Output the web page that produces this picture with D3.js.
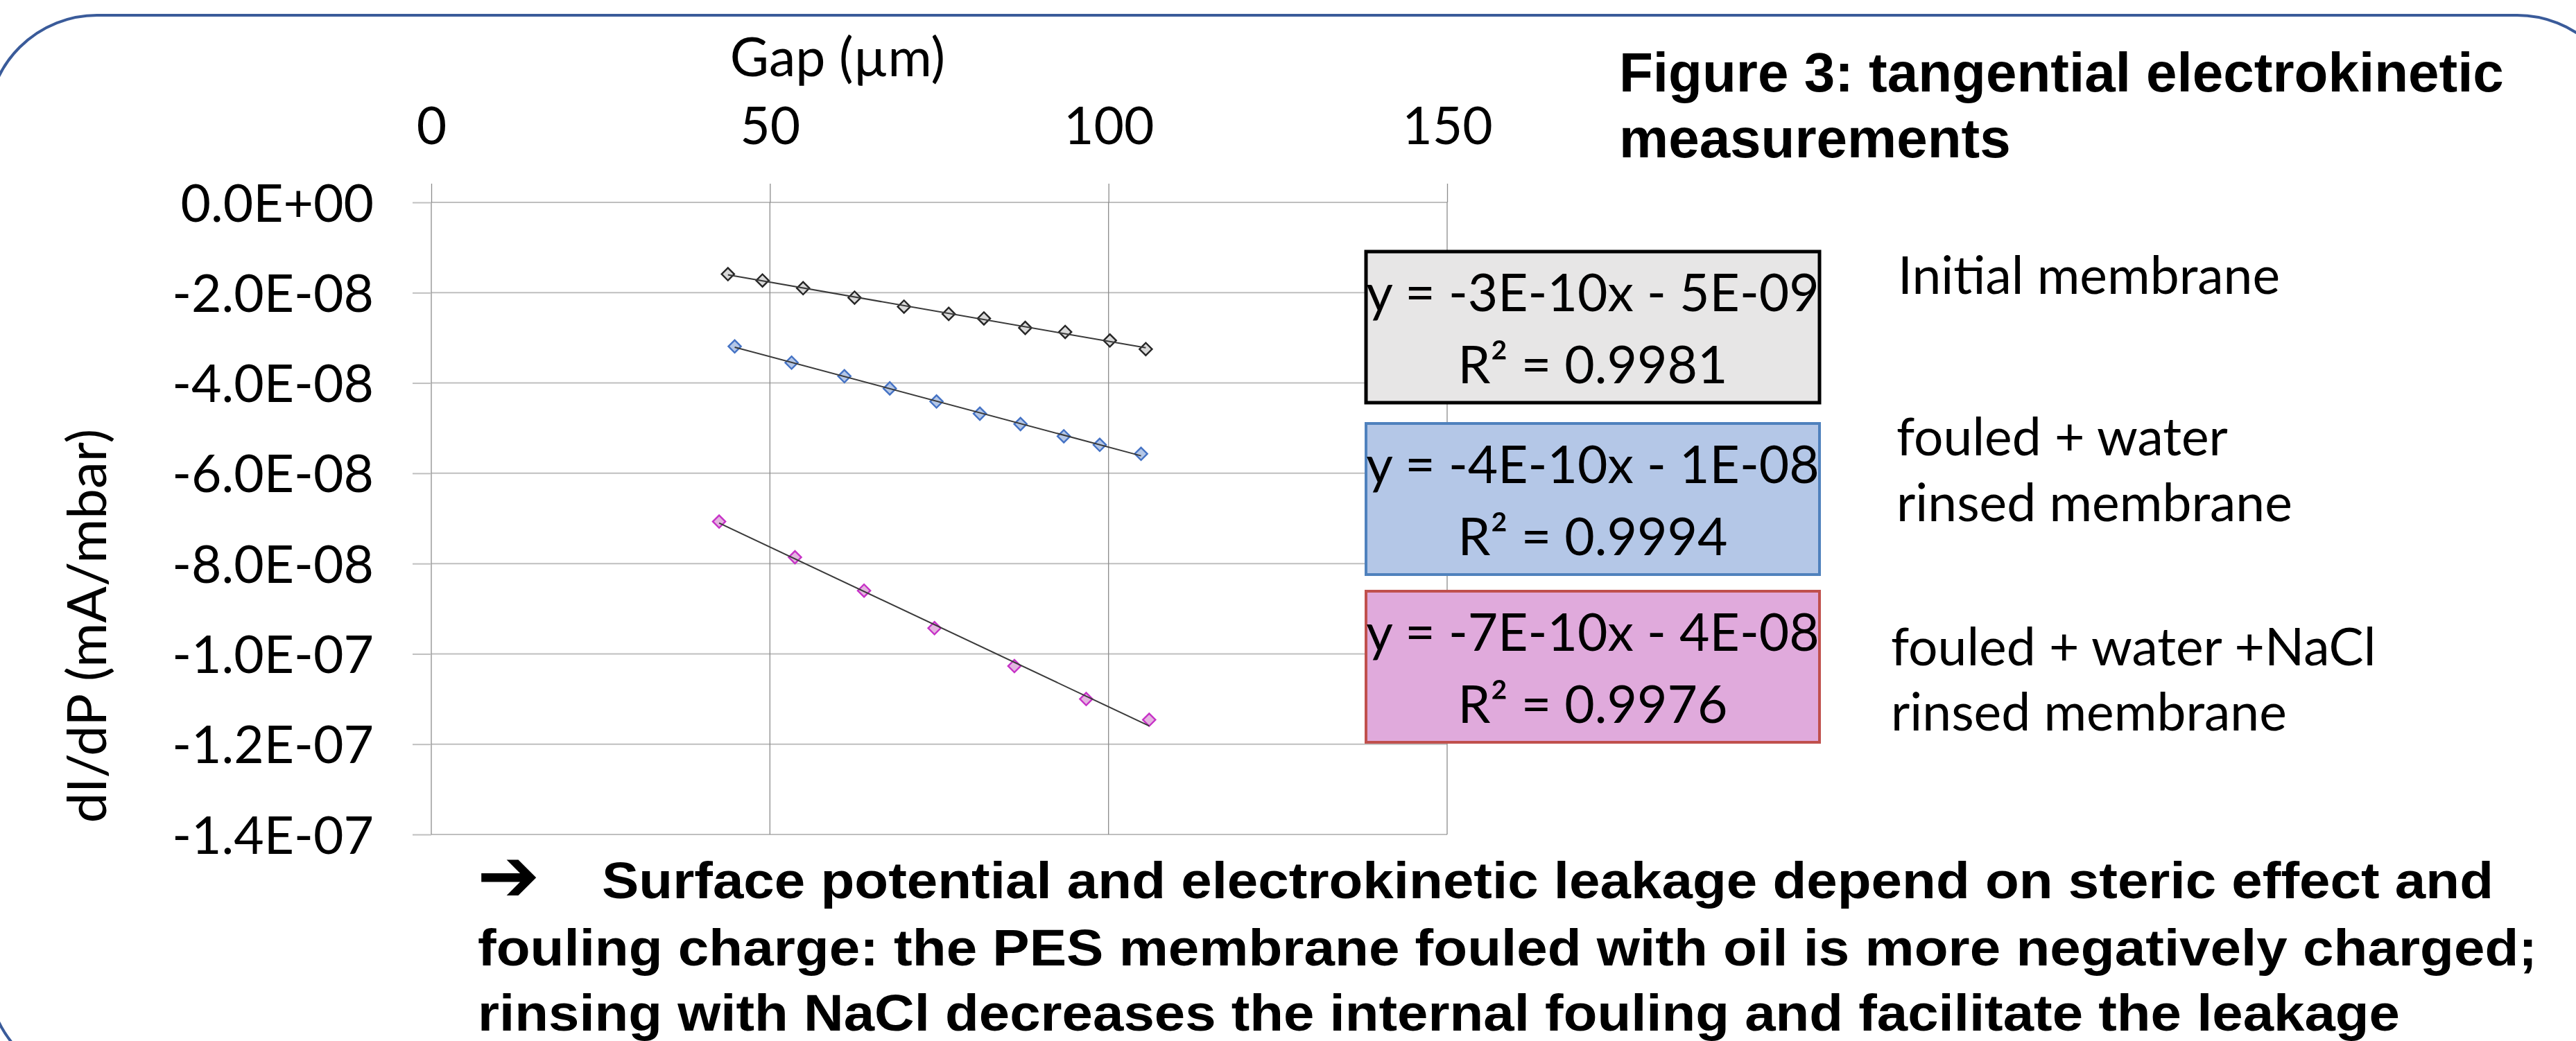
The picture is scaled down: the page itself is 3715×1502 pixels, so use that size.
<!DOCTYPE html>
<html>
<head>
<meta charset="utf-8">
<script src="https://cdn.jsdelivr.net/npm/d3@7"></script>
<style>
body { margin: 0; background: #fff; }
svg { display: block; }
</style>
</head>
<body>
<svg id="chart" width="3715" height="1502"></svg>
<script>
// values
var gapInitial = [43.8, 48.9, 54.9, 62.5, 69.8, 76.4, 81.6, 87.7, 93.6, 100.2, 105.5];
var dIdPInitial = [-1.59e-8, -1.73e-8, -1.90e-8, -2.11e-8, -2.31e-8, -2.47e-8, -2.57e-8, -2.78e-8, -2.87e-8, -3.06e-8, -3.25e-8];

var gapWater = [44.8, 53.2, 61.0, 67.7, 74.6, 81.0, 87.0, 93.4, 98.7, 104.8];
var dIdPWater = [-3.19e-8, -3.55e-8, -3.85e-8, -4.12e-8, -4.41e-8, -4.68e-8, -4.91e-8, -5.18e-8, -5.37e-8, -5.57e-8];

var gapNaCl = [42.5, 53.7, 63.9, 74.3, 86.1, 96.7, 106.0];
var dIdPNaCl = [-7.07e-8, -7.86e-8, -8.60e-8, -9.43e-8, -1.027e-7, -1.100e-7, -1.146e-7];

var equations = ["y = -3E-10x - 5E-09", "y = -4E-10x - 1E-08", "y = -7E-10x - 4E-08"];
var rSquared = ["R\u00b2 = 0.9981", "R\u00b2 = 0.9994", "R\u00b2 = 0.9976"];
var seriesLabels = [["Initial membrane"], ["fouled + water", "rinsed membrane"], ["fouled + water +NaCl", "rinsed membrane"]];

var xTicks = [0, 50, 100, 150];
var yTicks = [0, -2e-8, -4e-8, -6e-8, -8e-8, -1e-7, -1.2e-7, -1.4e-7];

var xTitle = "Gap (\u00b5m)";
var yTitle = "dI/dP (mA/mbar)";
var figTitle = ["Figure 3: tangential electrokinetic", "measurements"];
var conclusion = [
    "Surface potential and electrokinetic leakage depend on steric effect and",
    "fouling charge: the PES membrane fouled with oil is more negatively charged;",
    "rinsing with NaCl decreases the internal fouling and facilitate the leakage"
];

// Excel style scientific label: -2.0E-08
function sci(v) {
    if (v === 0) return "0.0E+00";
    var e = Math.floor(Math.log10(Math.abs(v)));
    var m = v / Math.pow(10, e);
    var ee = Math.abs(e);
    return m.toFixed(1) + "E" + (e < 0 ? "-" : "+") + (ee < 10 ? "0" + ee : ee);
}

function fitLine(xs, ys) {
    var mx = d3.mean(xs), my = d3.mean(ys);
    var sxy = d3.sum(xs, function (d, i) { return (d - mx) * (ys[i] - my); });
    var sxx = d3.sum(xs, function (d) { return (d - mx) * (d - mx); });
    var b = sxy / sxx;
    return { slope: b, intercept: my - b * mx };
}

var series = [
    { gap: gapInitial, val: dIdPInitial, fill: "#d9d9d9", stroke: "#262626", box: "#e7e6e6", boxStroke: "#000000", boxWidth: 5 },
    { gap: gapWater, val: dIdPWater, fill: "#b4c7e7", stroke: "#4472c4", box: "#b4c7e7", boxStroke: "#4f81bd", boxWidth: 4 },
    { gap: gapNaCl, val: dIdPNaCl, fill: "#e4b4e0", stroke: "#c732c7", box: "#e0aadc", boxStroke: "#c0504d", boxWidth: 4 }
];

var svg = d3.select("#chart");
var W = 3715, H = 1502;
var calibri = "Lato, 'Open Sans', sans-serif";
var arial = "'Liberation Sans', Arial, sans-serif";

svg.append("rect").attr("width", W).attr("height", H).attr("fill", "#fff");

// rounded frame, mostly running off the page
svg.append("rect")
    .attr("x", -18).attr("y", 22)
    .attr("width", 3806).attr("height", 1541)
    .attr("rx", 158).attr("ry", 158)
    .attr("fill", "none")
    .attr("stroke", "#3a5b9a")
    .attr("stroke-width", 4);

var x = d3.scaleLinear().domain([0, 150]).range([622, 2087]);
var y = d3.scaleLinear().domain([0, -1.4e-7]).range([292, 1204]);

var plot = svg.append("g");

plot.selectAll("line.hgrid")
    .data(yTicks)
    .enter()
    .append("line")
    .attr("class", "hgrid")
    .attr("x1", x(0)).attr("x2", x(150))
    .attr("y1", function (d) { return y(d); })
    .attr("y2", function (d) { return y(d); })
    .attr("stroke", "#bfbfbf")
    .attr("stroke-width", 2);

plot.selectAll("line.vgrid")
    .data(xTicks)
    .enter()
    .append("line")
    .attr("class", "vgrid")
    .attr("x1", function (d) { return x(d); })
    .attr("x2", function (d) { return x(d); })
    .attr("y1", y(0)).attr("y2", y(-1.4e-7))
    .attr("stroke", "#8c8c8c")
    .attr("stroke-width", 1.3);

var yAxis = d3.axisLeft(y).tickValues(yTicks).tickFormat(sci).tickSize(27).tickPadding(56);
var gy = svg.append("g").attr("transform", "translate(" + x(0) + ",0)").call(yAxis);
gy.select(".domain").remove();
gy.selectAll("line").attr("stroke", "#bfbfbf").attr("stroke-width", 2);
gy.selectAll("text")
    .attr("font-family", calibri)
    .attr("font-size", 75)
    .attr("fill", "#000")
    .attr("dy", "0.36em");

var xAxis = d3.axisTop(x).tickValues(xTicks).tickFormat(d3.format("d")).tickSize(27).tickPadding(57);
var gx = svg.append("g").attr("transform", "translate(0," + y(0) + ")").call(xAxis);
gx.select(".domain").remove();
gx.selectAll("line").attr("stroke", "#8c8c8c").attr("stroke-width", 1.3);
gx.selectAll("text")
    .attr("font-family", calibri)
    .attr("font-size", 75)
    .attr("fill", "#000");

svg.append("text")
    .attr("x", 1208).attr("y", 110)
    .attr("text-anchor", "middle")
    .attr("font-family", calibri)
    .attr("font-size", 77)
    .text(xTitle);

svg.append("text")
    .attr("transform", "translate(153,903) rotate(-90)")
    .attr("text-anchor", "middle")
    .attr("font-family", calibri)
    .attr("font-size", 78)
    .text(yTitle);

// markers, then trendlines on top
var diamond = d3.symbol().type(d3.symbolSquare).size(165);

series.forEach(function (s) {
    var pts = s.gap.map(function (g, i) { return { g: g, v: s.val[i] }; });
    plot.append("g")
        .selectAll("path")
        .data(pts)
        .enter()
        .append("path")
        .attr("d", diamond)
        .attr("transform", function (d) { return "translate(" + x(d.g) + "," + y(d.v) + ") rotate(45)"; })
        .attr("fill", s.fill)
        .attr("stroke", s.stroke)
        .attr("stroke-width", 2.4);

    var fit = fitLine(s.gap, s.val);
    var g0 = d3.min(s.gap), g1 = d3.max(s.gap);
    plot.append("line")
        .attr("x1", x(g0)).attr("y1", y(fit.intercept + fit.slope * g0))
        .attr("x2", x(g1)).attr("y2", y(fit.intercept + fit.slope * g1))
        .attr("stroke", "#3a3a3a")
        .attr("stroke-width", 2);
});

// trendline equation boxes
var boxTops = [363, 611, 853];
var boxLeft = 1970, boxW = 654, boxH = 218;

series.forEach(function (s, i) {
    var top = boxTops[i];
    svg.append("rect")
        .attr("x", boxLeft).attr("y", top)
        .attr("width", boxW).attr("height", boxH)
        .attr("fill", s.box)
        .attr("stroke", s.boxStroke)
        .attr("stroke-width", s.boxWidth);
    svg.append("text")
        .attr("x", boxLeft + boxW / 2).attr("y", top + 86)
        .attr("text-anchor", "middle")
        .attr("font-family", calibri)
        .attr("font-size", 75)
        .text(equations[i]);
    svg.append("text")
        .attr("x", boxLeft + boxW / 2).attr("y", top + 190)
        .attr("text-anchor", "middle")
        .attr("font-family", calibri)
        .attr("font-size", 75)
        .text(rSquared[i]);
});

// series names beside the boxes
var labelPos = [{ x: 2737, y: [424] }, { x: 2735, y: [657, 752] }, { x: 2727, y: [960, 1054] }];
seriesLabels.forEach(function (lines, i) {
    lines.forEach(function (t, j) {
        svg.append("text")
            .attr("x", labelPos[i].x).attr("y", labelPos[i].y[j])
            .attr("font-family", calibri)
            .attr("font-size", 75)
            .text(t);
    });
});

// figure title
figTitle.forEach(function (t, j) {
    svg.append("text")
        .attr("x", 2335).attr("y", [132, 227][j])
        .attr("font-family", arial)
        .attr("font-weight", "bold")
        .attr("font-size", 80)
        .text(t);
});

// conclusion paragraph
svg.append("text")
    .attr("x", 688).attr("y", 1300)
    .attr("font-family", "'DejaVu Sans', sans-serif")
    .attr("font-weight", "bold")
    .attr("font-size", 108)
    .text("\u2794");

var paraLines = [
    { x: 868, y: 1296, w: 2728 },
    { x: 689, y: 1393, w: 2970 },
    { x: 689, y: 1487, w: 2772 }
];
conclusion.forEach(function (t, j) {
    svg.append("text")
        .attr("x", paraLines[j].x).attr("y", paraLines[j].y)
        .attr("font-family", arial)
        .attr("font-weight", "bold")
        .attr("font-size", 74)
        .attr("textLength", paraLines[j].w)
        .attr("lengthAdjust", "spacingAndGlyphs")
        .text(t);
});
</script>
</body>
</html>
